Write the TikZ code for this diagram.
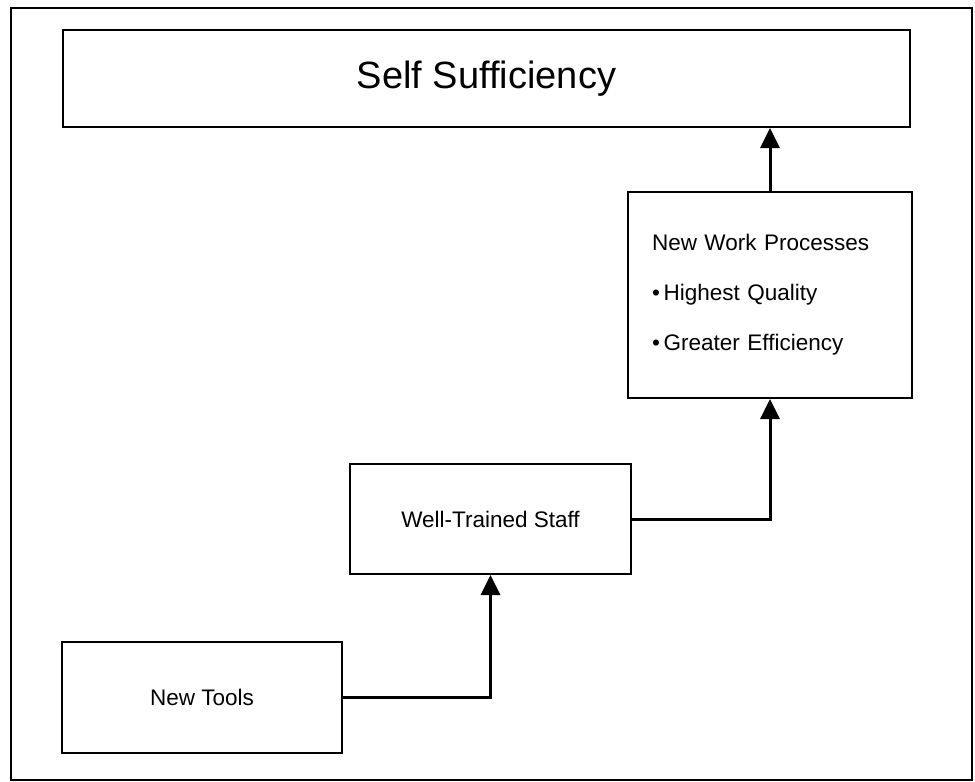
\documentclass[tikz,border=0pt]{standalone}
\usepackage{fontspec}
\setmainfont{Liberation Sans}
\usepackage{tikz}
\usetikzlibrary{arrows.meta}
\tikzset{
    block/.style = {
        draw,
        shape=rectangle,
        line width=2pt,
        inner sep=0pt,
        font=\fontsize{22.5}{26}\selectfont
    },
    link/.style = {
        draw,
        line width=3pt
    },
    >={Triangle[length=20pt,width=19pt]},
}

\begin{document}
\begin{tikzpicture}[x=1pt,y=-1pt]
                \useasboundingbox (0,0) rectangle (975,782);
                \draw[line width=1.5pt] (11,8) rectangle (972,780);

                \node[block, minimum width=847, minimum height=97,
                font=\fontsize{38}{44}\selectfont] (self) at (486.5,78.5) {Self Sufficiency};
                \node[block, minimum width=284, minimum height=206, align=left,
                text width=236, font=\fontsize{22.5}{50}\selectfont] (work) at (770,295)
                {New Work Processes\\\textbullet\,Highest Quality\\\textbullet\,Greater Efficiency};
                \node[block, minimum width=281, minimum height=110] (staff) at (490.5,519) {Well-Trained Staff};
                \node[block, minimum width=280, minimum height=111] (tools) at (202,697.5) {New Tools};

                \path[link, ->] (tools) -| (staff);
                \path[link, ->] (staff) -| (work);
                \path[link, ->] (work) -- (work |- self.south);
\end{tikzpicture}
\end{document}
